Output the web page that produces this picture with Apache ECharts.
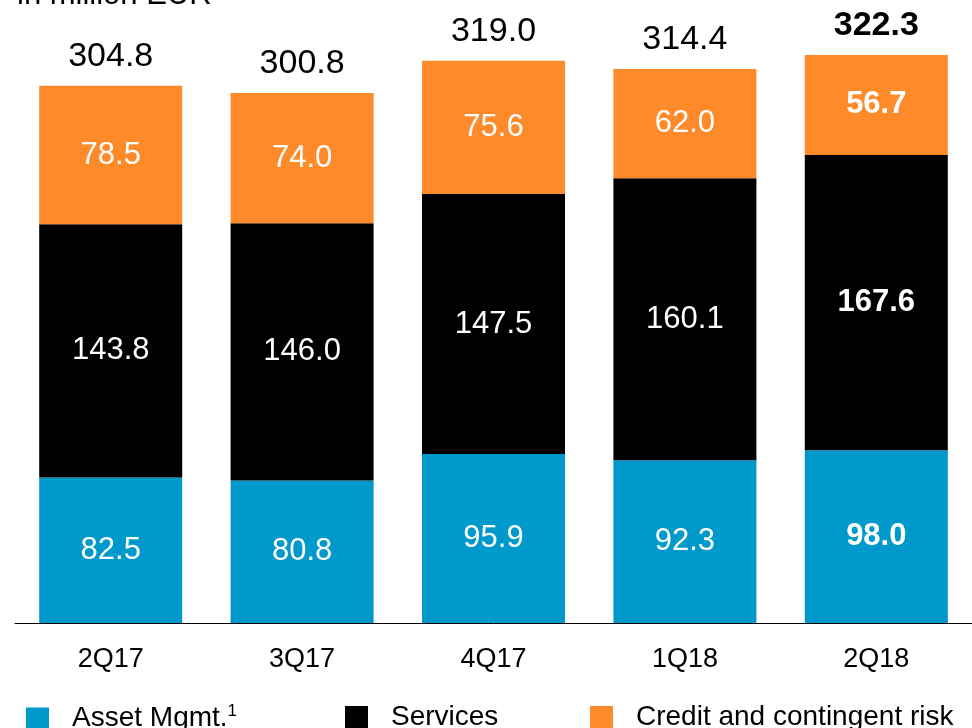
<!DOCTYPE html>
<html>
<head>
<meta charset="utf-8">
<script src="https://cdn.jsdelivr.net/npm/echarts@6/dist/echarts.min.js"></script>
<style>
html,body{margin:0;padding:0;background:#fff;}
#chart{width:972px;height:728px;}
</style>
</head>
<body>
<div id="chart"></div>
<script>
var categories = ['2Q17', '3Q17', '4Q17', '1Q18', '2Q18'];
var assetMgmt = [82.5, 80.8, 95.9, 92.3, 98.0];
var services = [143.8, 146.0, 147.5, 160.1, 167.6];
var creditRisk = [78.5, 74.0, 75.6, 62.0, 56.7];
var totals = [304.8, 300.8, 319.0, 314.4, 322.3];
var boldIndex = 4;

var font = 'Liberation Sans, Arial, sans-serif';

// inner label, bold for the last quarter
function innerLabel(p){
	return p.dataIndex == boldIndex ? '{b|' + p.value.toFixed(1) + '}' : p.value.toFixed(1);
}

function segLabel(){
	return {
		show: true,
		position: 'inside',
		color: '#fff',
		fontSize: 31,
		fontFamily: font,
		formatter: innerLabel,
		rich: { b: { fontWeight: 'bold', fontSize: 31, color: '#fff', fontFamily: font } }
	};
}

//legend item, one per series so they can sit where the slide has them
function legendItem(name, left){
	return {
		left: left,
		top: 703,
		padding: 0,
		itemWidth: 23,
		itemHeight: 22,
		icon: 'rect',
		selectedMode: false,
		textStyle: {
			fontSize: 28, color: '#000', fontFamily: font, padding: [0, 0, 0, 18],
			rich: { sup: { fontSize: 17, color: '#000', fontFamily: font, padding: [0, 0, 14, 0] } }
		},
		formatter: function(n){
			if(n == 'Asset Mgmt.') return 'Asset Mgmt.{sup|1}';
			return n;
		},
		data: [name]
	};
}

var chart = echarts.init(document.getElementById('chart'));
chart.setOption({
	animation: false,
	title: {
		text: 'in million EUR',
		left: 12,
		top: -25,
		textStyle: { fontSize: 31, fontWeight: 'normal', color: '#000', fontFamily: font }
	},
	legend: [
		legendItem('Asset Mgmt.', 26),
		legendItem('Services', 345),
		legendItem('Credit and contingent risk', 590)
	],
	grid: { left: 15, right: -10, top: 0, bottom: 105 },
	xAxis: {
		type: 'category',
		data: categories,
		axisTick: { show: false },
		axisLine: { lineStyle: { color: '#000', width: 1 } },
		axisLabel: { fontSize: 27, color: '#000', fontFamily: font, margin: 23 }
	},
	yAxis: {
		type: 'value',
		min: 0,
		max: 353.5,
		show: false,
		splitLine: { show: false }
	},
	series: [
		{
			name: 'Asset Mgmt.',
			type: 'bar',
			stack: 'a',
			barWidth: 143,
			itemStyle: { color: '#0099CC' },
			label: segLabel(),
			data: assetMgmt
		},
		{
			name: 'Services',
			type: 'bar',
			stack: 'a',
			itemStyle: { color: '#000000' },
			label: segLabel(),
			data: services
		},
		{
			name: 'Credit and contingent risk',
			type: 'bar',
			stack: 'a',
			itemStyle: { color: '#FF8A2A' },
			label: segLabel(),
			data: creditRisk
		},
		{
			name: 'total',
			type: 'scatter',
			symbolSize: 0,
			silent: true,
			itemStyle: { color: '#000', opacity: 1 },
			label: {
				show: true,
				position: 'top',
				distance: 12,
				color: '#000',
				fontSize: 34,
				fontFamily: font,
				formatter: function(p){
					return p.dataIndex == boldIndex ? '{b|' + p.value.toFixed(1) + '}' : p.value.toFixed(1);
				},
				rich: { b: { fontWeight: 'bold', fontSize: 34, color: '#000', fontFamily: font } }
			},
			data: totals
		}
	]
});
</script>
</body>
</html>
